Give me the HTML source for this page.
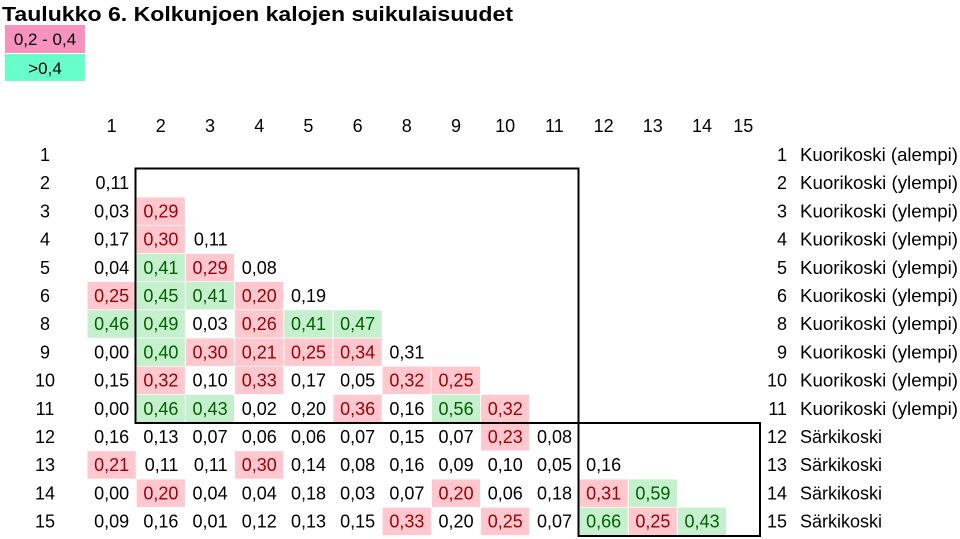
<!DOCTYPE html>
<html><head><meta charset="utf-8"><style>
html,body{margin:0;padding:0;background:#fff;}
svg{display:block;font-family:"Liberation Sans",Arial,sans-serif;}
</style></head><body>
<svg id="tbl" width="960" height="539" viewBox="0 0 960 539">
<text x="2" y="21" font-size="20" font-weight="bold" textLength="511" lengthAdjust="spacingAndGlyphs">Taulukko 6. Kolkunjoen kalojen suikulaisuudet</text>
<rect x="5" y="25" width="80" height="28" fill="#f791bd"/>
<text x="45" y="45" font-size="17" text-anchor="middle">0,2 - 0,4</text>
<rect x="5" y="54" width="80" height="27" fill="#66ffcc"/>
<text x="45" y="74" font-size="17" text-anchor="middle">&gt;0,4</text>
<g id="cells"></g>
<rect x="135.5" y="168.5" width="443" height="254.5" fill="none" stroke="#000" stroke-width="2"/>
<rect x="578.5" y="423" width="181.5" height="113" fill="none" stroke="#000" stroke-width="2"/>
</svg>
<script>
const colLabels = ["1","2","3","4","5","6","8","9","10","11","12","13","14","15"];
const rowLabels = ["1","2","3","4","5","6","8","9","10","11","12","13","14","15"];
const siteNames = ["Kuorikoski (alempi)","Kuorikoski (ylempi)","Kuorikoski (ylempi)","Kuorikoski (ylempi)","Kuorikoski (ylempi)","Kuorikoski (ylempi)","Kuorikoski (ylempi)","Kuorikoski (ylempi)","Kuorikoski (ylempi)","Kuorikoski (ylempi)","Särkikoski","Särkikoski","Särkikoski","Särkikoski"];
const values = [
 [],
 ["0,11"],
 ["0,03","0,29"],
 ["0,17","0,30","0,11"],
 ["0,04","0,41","0,29","0,08"],
 ["0,25","0,45","0,41","0,20","0,19"],
 ["0,46","0,49","0,03","0,26","0,41","0,47"],
 ["0,00","0,40","0,30","0,21","0,25","0,34","0,31"],
 ["0,15","0,32","0,10","0,33","0,17","0,05","0,32","0,25"],
 ["0,00","0,46","0,43","0,02","0,20","0,36","0,16","0,56","0,32"],
 ["0,16","0,13","0,07","0,06","0,06","0,07","0,15","0,07","0,23","0,08"],
 ["0,21","0,11","0,11","0,30","0,14","0,08","0,16","0,09","0,10","0,05","0,16"],
 ["0,00","0,20","0,04","0,04","0,18","0,03","0,07","0,20","0,06","0,18","0,31","0,59"],
 ["0,09","0,16","0,01","0,12","0,13","0,15","0,33","0,20","0,25","0,07","0,66","0,25","0,43"]
];
const highlights = [
 "", "-", "-p", "-p-", "-gp-", "pggp-", "gg-pgg", "-gpppp", "-p-p--pp", "-gg--p-gp",
 "--------p-", "p--p-------", "-p-----p--pg", "------p-p-gpg"
];
const NS = "http://www.w3.org/2000/svg";
const g = document.getElementById("cells");
function colLeft(i){ return 87 + i*49.2; }
function colRight(i){ return i===13 ? 760 : colLeft(i+1); }
function rowCenter(r){ return 155 + r*28.2; }
function mk(tag, attrs, txt){
  const e = document.createElementNS(NS, tag);
  for (const k in attrs) e.setAttribute(k, attrs[k]);
  if (txt!==undefined) e.textContent = txt;
  g.appendChild(e); return e;
}
colLabels.forEach((c,i)=>{
  const t = mk("text",{x:(colLeft(i)+colRight(i))/2, y:132, "font-size":18, "text-anchor":"middle"}, c);
  
  
});
rowLabels.forEach((r,ri)=>{
  const y = rowCenter(ri);
  const t = mk("text",{x:45, y:y+6, "font-size":18, "text-anchor":"middle"}, r);
  
  
  const n = mk("text",{x:787, y:y+6, "font-size":18, "text-anchor":"end"}, r);
  
  
  const s = mk("text",{x:800, y:y+6, "font-size":18}, siteNames[ri]);
  
  
  if (siteNames[ri].length > 12) { s.setAttribute("textLength", 158); s.setAttribute("lengthAdjust","spacingAndGlyphs"); }
  values[ri].forEach((v,ci)=>{
    const h = highlights[ri][ci];
    let fill = "#000";
    if (h==="p" || h==="g") {
      const r = mk("rect",{x:colLeft(ci)+0.5, y:y-14, width:colRight(ci)-colLeft(ci)-1, height:27.5, fill: h==="p" ? "#ffc7ce" : "#c6efce"});
      
      
      fill = h==="p" ? "#9c0006" : "#006100";
    }
    const t = mk("text",{x:colRight(ci)-7, y:y+6, "font-size":18, "text-anchor":"end", fill:fill}, v);
    
    
  });
});
</script>
</body></html>
